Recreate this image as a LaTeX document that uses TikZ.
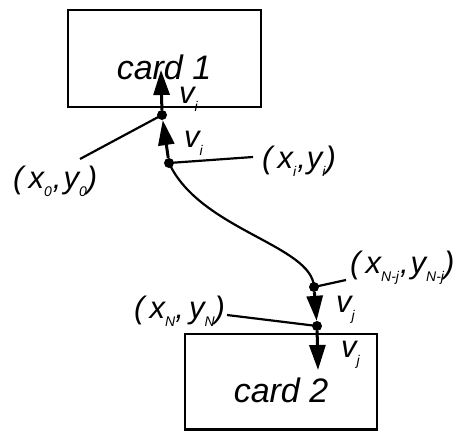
\documentclass[tikz,border=0pt]{standalone}
\usepackage{fontspec}
\setmainfont{Liberation Sans}
\usetikzlibrary{arrows.meta}
\newcommand{\sbs}[1]{\raisebox{-0.26em}{\fontsize{14}{14}\selectfont #1}}
\tikzset{
  card/.style={draw, line width=2.6pt},
  cardtxt/.style={font=\fontsize{34}{34}\selectfont\itshape, inner sep=0pt},
  lab/.style={font=\fontsize{31}{31}\selectfont\itshape, inner sep=0pt, anchor=base west},
  vlab/.style={font=\fontsize{31}{31}\selectfont\itshape, inner sep=0pt, anchor=base west},
  dot/.style={circle, fill, inner sep=0pt, minimum size=10pt},
  leader/.style={line width=2.2pt},
  vel/.style={line width=3pt, -{Triangle[width=16pt,length=25pt]}},
  path/.style={line width=2.2pt},
}
\begin{document}
\begin{tikzpicture}[x=1pt,y=-1pt]
\useasboundingbox (0,0) rectangle (467,431);
% cards
\draw[card] (68,10) rectangle (261,107);
\draw[card] (185,334) rectangle (377,429.5);
\node[cardtxt] (c1) at (164,67) {card 1};
\node[cardtxt] (c2) at (281,390) {card 2};
% dots
\node[dot] (A) at (162,115) {};
\node[dot] (B) at (169,163) {};
\node[dot] (C) at (314,287) {};
\node[dot] (D) at (317,326) {};
% free ends
\coordinate (tA) at (161,70);
\coordinate (tD) at (318,370);
\coordinate (e0) at (80,159);
\coordinate (ei) at (253,157);
\coordinate (eNj) at (346,280);
\coordinate (eN) at (227,315);
% curve
\draw[path] (B.center) .. controls (200,230) and (312,245) .. (C.center);
% leaders
\draw[leader] (e0) -- (A.center);
\draw[leader] (B.center) -- (ei);
\draw[leader] (C.center) -- (eNj);
\draw[leader] (eN) -- (D.center);
% velocity arrows
\draw[vel] (B) -- (A);
\draw[vel] (A) -- (tA);
\draw[vel] (C) -- (D);
\draw[vel] (D) -- (tD);
% labels
\node[lab] (l0) at (13,188) {(\,x\sbs{0}\kern1pt,\kern2pt y\sbs{0})};
\node[lab] (li) at (262,168) {(\,x\sbs{i}\kern1pt,\kern1pt y\sbs{i})};
\node[lab] (lNj) at (350,273) {(\,x\sbs{N-j}\kern1pt,\kern2pt y\sbs{N-j})};
\node[lab] (lN) at (134,318) {(\,x\sbs{N},\,y\sbs{N})};
\node[vlab] (v1) at (179,103) {v\sbs{i}};
\node[vlab] (v2) at (184,147) {v\sbs{i}};
\node[vlab] (v3) at (336,312) {v\sbs{j}};
\node[vlab] (v4) at (341,357) {v\sbs{j}};
\end{tikzpicture}
\end{document}
